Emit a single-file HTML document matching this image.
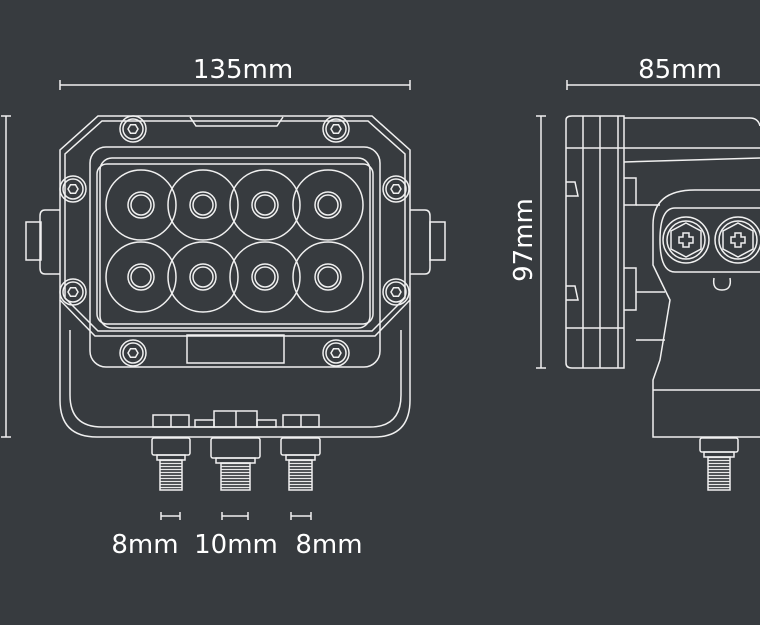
<!DOCTYPE html>
<html><head><meta charset="utf-8"><style>
html,body{margin:0;padding:0;background:#373b3f;}
svg{display:block}
text{font-family:"DejaVu Sans","Liberation Sans",sans-serif;fill:#fff;}
</style></head><body>
<svg width="760" height="625" viewBox="0 0 760 625" xmlns="http://www.w3.org/2000/svg">
<defs>
<pattern id="thr" width="4" height="3" patternUnits="userSpaceOnUse"><rect width="4" height="3" fill="#373b3f"/><line x1="0" y1="1.5" x2="4" y2="1.5" stroke="#e8e8e8" stroke-width="1.3"/></pattern>
<g id="scr"><circle r="13" fill="none"/><circle r="10" fill="none"/><polygon points="5,0 2.5,4.3 -2.5,4.3 -5,0 -2.5,-4.3 2.5,-4.3" fill="none"/></g>
<g id="led"><circle r="13"/><circle r="10"/></g>
</defs>
<g stroke="#f0f0f0" stroke-width="1.5" fill="none">
<line x1="60" y1="85" x2="410" y2="85"/><line x1="60" y1="80" x2="60" y2="90"/><line x1="410" y1="80" x2="410" y2="90"/>
<line x1="6" y1="116" x2="6" y2="437"/><line x1="1" y1="116" x2="11" y2="116"/><line x1="1" y1="437" x2="11" y2="437"/>
<line x1="567" y1="85" x2="760" y2="85"/><line x1="567" y1="80" x2="567" y2="90"/>
<line x1="541" y1="116" x2="541" y2="368"/><line x1="536" y1="116" x2="546" y2="116"/><line x1="536" y1="368" x2="546" y2="368"/>
<line x1="161" y1="516" x2="180" y2="516"/><line x1="161" y1="512" x2="161" y2="520"/><line x1="180" y1="512" x2="180" y2="520"/>
<line x1="222" y1="516" x2="248" y2="516"/><line x1="222" y1="512" x2="222" y2="520"/><line x1="248" y1="512" x2="248" y2="520"/>
<line x1="291" y1="516" x2="311" y2="516"/><line x1="291" y1="512" x2="291" y2="520"/><line x1="311" y1="512" x2="311" y2="520"/>

<path d="M98,116 H372 L410,150 V300 L375,336 H95 L60,300 V150 Z"/>
<path d="M102,121 H368 L405,154 V298 L372,331 H98 L65,298 V154 Z"/>
<path d="M190,117 L196,126 H277 L283,117"/>
<rect x="90" y="147" width="290" height="220" rx="16"/>
<rect x="100" y="158" width="270" height="170" rx="12"/>
<rect x="97" y="164" width="276" height="160" rx="10"/>
<path d="M187,335 H284 V363 H187 Z"/>
<path d="M60,300 V400 Q60,437 97,437 H374 Q410,437 410,400 V300"/>
<path d="M70,330 V395 Q70,427 102,427 H370 Q401,427 401,395 V330"/>
<path d="M60,210 H45 Q40,210 40,216 V268 Q40,274 45,274 H60"/><rect x="26" y="222" width="15" height="38"/>
<path d="M410,210 H425 Q430,210 430,216 V268 Q430,274 425,274 H410"/><rect x="430" y="222" width="15" height="38"/>
<g>
<circle cx="141" cy="205" r="35"/><circle cx="203" cy="205" r="35"/><circle cx="265" cy="205" r="35"/><circle cx="328" cy="205" r="35"/>
<circle cx="141" cy="277" r="35"/><circle cx="203" cy="277" r="35"/><circle cx="265" cy="277" r="35"/><circle cx="328" cy="277" r="35"/>
<use href="#led" x="141" y="205"/><use href="#led" x="203" y="205"/><use href="#led" x="265" y="205"/><use href="#led" x="328" y="205"/>
<use href="#led" x="141" y="277"/><use href="#led" x="203" y="277"/><use href="#led" x="265" y="277"/><use href="#led" x="328" y="277"/>
</g>
<use href="#scr" x="133" y="129"/><use href="#scr" x="336" y="129"/><use href="#scr" x="73" y="189"/><use href="#scr" x="396" y="189"/>
<use href="#scr" x="73" y="292"/><use href="#scr" x="396" y="292"/><use href="#scr" x="133" y="353"/><use href="#scr" x="336" y="353"/>
<rect x="153" y="415" width="36" height="12"/><line x1="171" y1="415" x2="171" y2="427"/>
<rect x="214" y="411" width="43" height="16"/><line x1="236" y1="411" x2="236" y2="427"/>
<rect x="195" y="420" width="19" height="7"/><rect x="257" y="420" width="19" height="7"/>
<rect x="283" y="415" width="36" height="12"/><line x1="301" y1="415" x2="301" y2="427"/>
<rect x="152" y="438" width="38" height="17" rx="2"/><rect x="157" y="455" width="28" height="5"/><rect x="160" y="460" width="22" height="30" fill="url(#thr)"/>
<rect x="211" y="438" width="49" height="20" rx="2"/><rect x="216" y="458" width="39" height="5"/><rect x="221" y="463" width="29" height="27" fill="url(#thr)"/>
<rect x="281" y="438" width="39" height="17" rx="2"/><rect x="286" y="455" width="29" height="5"/><rect x="289" y="460" width="23" height="30" fill="url(#thr)"/>

<path d="M566,120 Q566,116 572,116 H624 V368 H572 Q566,368 566,363 Z"/>
<line x1="583" y1="116" x2="583" y2="368"/><line x1="600" y1="116" x2="600" y2="368"/><line x1="618" y1="116" x2="618" y2="368"/>
<line x1="566" y1="148" x2="624" y2="148"/><line x1="566" y1="328" x2="624" y2="328"/>
<path d="M566,182 H575 L578,196 H566"/><path d="M566,286 H575 L578,300 H566"/>
<path d="M624,118 H750 Q758,118 760,126"/><line x1="624" y1="148" x2="760" y2="148"/><line x1="624" y1="162" x2="760" y2="158"/>
<path d="M624,178 H636 V205 H624"/><path d="M624,268 H636 V310 H624"/>
<line x1="636" y1="205" x2="660" y2="205"/><line x1="636" y1="292" x2="665" y2="292"/><line x1="636" y1="340" x2="665" y2="340"/>
<path d="M695,190 H760 M695,190 Q653,190 653,225 V265 Q665,290 670,300 L660,360 L653,380 V437 H760"/>
<path d="M675,208 H760 M675,208 Q660,208 660,240 Q660,272 675,272 H760"/>
<line x1="653" y1="390" x2="760" y2="390"/>
<circle cx="686" cy="240" r="23"/><circle cx="686" cy="240" r="19"/>
<circle cx="738" cy="240" r="23"/><circle cx="738" cy="240" r="19"/>
<polygon points="686,223 701,231 701,249 686,257 671,249 671,231"/>
<polygon points="738,223 753,231 753,249 738,257 723,249 723,231"/>
<path d="M683,233 h6 v4 h4 v6 h-4 v4 h-6 v-4 h-4 v-6 h4 z"/>
<path d="M735,233 h6 v4 h4 v6 h-4 v4 h-6 v-4 h-4 v-6 h4 z"/>
<path d="M714,278 Q712,290 722,290 Q732,290 730,278"/>
<rect x="700" y="438" width="38" height="14" rx="2"/><rect x="704" y="452" width="30" height="5"/><rect x="708" y="457" width="22" height="33" fill="url(#thr)"/>
</g>
<text x="243" y="78" font-size="26" text-anchor="middle">135mm</text>
<text x="680" y="78" font-size="26" text-anchor="middle">85mm</text>
<text transform="translate(532,240) rotate(-90)" font-size="26" text-anchor="middle">97mm</text>
<text x="145" y="553" font-size="26" text-anchor="middle">8mm</text>
<text x="236" y="553" font-size="26" text-anchor="middle">10mm</text>
<text x="329" y="553" font-size="26" text-anchor="middle">8mm</text>
</svg>
</body></html>
